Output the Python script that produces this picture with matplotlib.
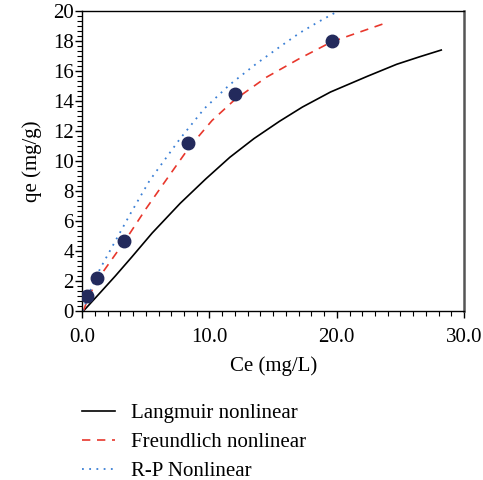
import numpy as np
import matplotlib.pyplot as plt
from matplotlib.ticker import MultipleLocator, FormatStrFormatter

plt.rcParams['font.family'] = ['Liberation Serif', 'DejaVu Serif']

# experimental points
ce_exp = [0.4, 1.2, 3.3, 8.35, 12.0, 19.6]
qe_exp = [1.0, 2.2, 4.65, 11.2, 14.5, 18.0]

# model curves
ce_lang = [0.1, 1.5, 2.6, 3.9, 5.5, 7.7, 9.7, 11.6, 13.5, 15.5, 17.3, 19.5, 22.4, 24.7, 26.5, 28.2]
qe_lang = [0.0, 1.3, 2.33, 3.6, 5.2, 7.18, 8.8, 10.25, 11.5, 12.65, 13.6, 14.6, 15.65, 16.45, 16.95, 17.4]

ce_freu = [0.1, 0.5, 1.3, 3.3, 5.0, 6.4, 8.4, 10.2, 12.0, 14.5, 17.0, 19.6, 21.8, 24.0]
qe_freu = [0.0, 0.95, 2.2, 4.6, 6.8, 8.5, 10.9, 12.7, 14.1, 15.6, 16.8, 17.95, 18.6, 19.25]

ce_rp = [0.05, 0.6, 1.4, 2.5, 3.8, 5.3, 7.7, 9.6, 11.6, 13.7, 15.5, 17.1, 18.6, 20.0]
qe_rp = [0.0, 1.3, 2.8, 4.5, 6.5, 8.7, 11.5, 13.5, 15.1, 16.5, 17.6, 18.55, 19.3, 19.95]

fig = plt.figure(figsize=(4.83, 4.80), dpi=100)
ax = fig.add_axes([0.170, 0.352, 0.791, 0.625])

ax.plot(ce_lang, qe_lang, color='black', lw=1.2, ls='-', label='Langmuir nonlinear')
ax.plot(ce_freu, qe_freu, color='#e8372c', lw=1.2, ls=(0, (5, 4)), label='Freundlich nonlinear')
ax.plot(ce_rp, qe_rp, color='#3a7fd5', lw=1.3, ls=(0, (1, 3)), label='R-P Nonlinear')
ax.plot(ce_exp, qe_exp, 'o', color='#232a5c', ms=9, zorder=5)

ax.set_xlim(0, 30)
ax.set_ylim(0, 20)
ax.xaxis.set_major_locator(MultipleLocator(10))
ax.xaxis.set_minor_locator(MultipleLocator(1))
ax.xaxis.set_major_formatter(FormatStrFormatter('%.1f'))
ax.yaxis.set_major_locator(MultipleLocator(2))
ax.yaxis.set_minor_locator(MultipleLocator(1/3))
ax.tick_params(which='major', direction='out', length=5, width=1, labelsize=15, pad=1)
ax.tick_params(which='minor', direction='out', length=3.5, width=0.8)
ax.tick_params(axis='x', which='major', pad=7)

for s in ['left', 'bottom', 'top']:
    ax.spines[s].set_linewidth(1.0)
ax.spines['right'].set_color('#555555')
ax.spines['right'].set_linewidth(1.8)

ax.set_xlabel("Ce (mg/L)", fontsize=15, labelpad=7)
ax.set_ylabel("qe (mg/g)", fontsize=15, labelpad=8)

fig.legend(loc='upper left', bbox_to_anchor=(0.153, 0.176), frameon=False, fontsize=15,
           handlelength=1.55, handletextpad=0.8, labelspacing=0.45, borderaxespad=0)

plt.savefig('out.png', dpi=100)
plt.close()
